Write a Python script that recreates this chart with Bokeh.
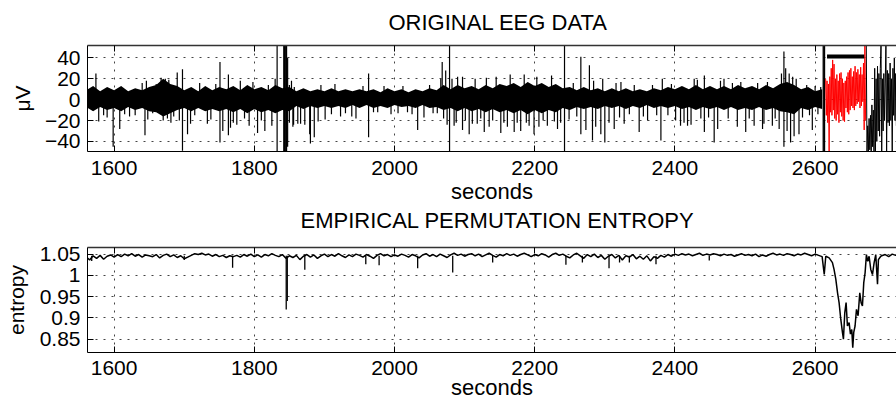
from bokeh.plotting import figure
from bokeh.layouts import column
from bokeh.models import Range1d, FixedTicker, LinearAxis, Title
from bokeh.embed import file_html
from bokeh.resources import INLINE

# ---------------- data ----------------
x_ticks = [1600, 1800, 2000, 2200, 2400, 2600]
eeg_ticks = [-40, -20, 0, 20, 40]
eeg_tick_labels = ["\u221240", "\u221220", "0", "20", "40"]
ent_ticks = [0.85, 0.9, 0.95, 1.0, 1.05]
ent_tick_labels = ["0.85", "0.9", "0.95", "1", "1.05"]

# EEG background activity envelope, sampled every 10 s from 1560 s (microvolts)
band_start, band_step = 1560, 10
band_hi = [9, 13, 8, 12, 9, 13, 8, 11, 9, 12,
           14, 20, 15, 13, 9, 12, 8, 13, 9, 12,
           10, 13, 9, 14, 10, 12, 9, 14, 11, 12,
           8, 11, 8, 10, 8, 11, 8, 10, 8, 10,
           8, 10, 7, 11, 8, 10, 7, 10, 8, 11,
           9, 14, 10, 14, 11, 13, 10, 14, 11, 15,
           13, 16, 12, 17, 13, 16, 12, 15, 11, 12,
           9, 12, 9, 11, 8, 11, 8, 11, 8, 10,
           8, 11, 9, 12, 10, 13, 10, 14, 10, 13,
           10, 13, 10, 14, 11, 13, 10, 14, 11, 15,
           17, 14, 10, 12, 8, 10]
band_lo = [-7, -11, -7, -10, -8, -11, -7, -10, -8, -11,
           -12, -16, -13, -10, -8, -11, -8, -11, -9, -11,
           -9, -12, -9, -13, -9, -12, -10, -13, -10, -11,
           -6, -9, -6, -8, -6, -8, -6, -8, -5, -8,
           -5, -8, -6, -8, -5, -7, -6, -8, -5, -8,
           -7, -10, -8, -11, -8, -11, -9, -12, -9, -12,
           -10, -13, -10, -14, -10, -13, -10, -12, -8, -10,
           -7, -9, -7, -9, -6, -8, -6, -9, -6, -8,
           -5, -8, -6, -8, -6, -9, -7, -10, -7, -9,
           -7, -10, -7, -10, -8, -10, -7, -10, -8, -11,
           -12, -14, -8, -10, -7, -9]

# EEG spikes (time in s, peak in microvolts)
spike_t = [1574, 1578, 1585, 1590, 1598.6, 1608, 1615, 1622, 1630, 1640, 1644, 1646, 1648,
           1655, 1660, 1667, 1670, 1673, 1676, 1678, 1681, 1685, 1690, 1693, 1697.5, 1697.5,
           1704.7, 1709, 1715, 1722, 1733, 1738, 1745, 1751, 1751, 1755, 1763, 1763, 1766,
           1770, 1775, 1780, 1786, 1792.6, 1798, 1804.6, 1810, 1815, 1820, 1825, 1829.7,
           1832.5, 1832.5, 1842, 1842, 1843, 1843, 1844, 1844, 1845, 1845, 1846, 1846,
           1847.5, 1847.5, 1850, 1850, 1853, 1855, 1856, 1857,
           1862, 1866, 1872, 1879, 1880, 1885.5, 1891, 1895, 1901, 1910, 1915, 1923, 1930,
           1939, 1945, 1955, 1963, 1963, 1970, 1976, 1985, 1995, 2005, 2012, 2018.5, 2025,
           2033, 2042, 2050, 2055, 2061, 2066, 2068, 2070, 2073, 2075,
           2078.5, 2078.5, 2082, 2085, 2088, 2090, 2097, 2097, 2101, 2106.5, 2111, 2115,
           2118, 2123, 2128, 2131, 2135, 2140, 2145, 2151.6, 2156, 2161, 2165, 2170.7,
           2175, 2180, 2185, 2188, 2192, 2199, 2203, 2206, 2212, 2218, 2224, 2228, 2232.5,
           2237, 2242.5, 2242.5,
           2249, 2255, 2260, 2265.8, 2265.8, 2273, 2278, 2282.4, 2284, 2287, 2294.3, 2297,
           2300, 2306, 2313.4, 2316, 2321, 2323, 2327.6, 2335, 2342, 2349, 2355, 2361,
           2368, 2374, 2380, 2382, 2390, 2395, 2401, 2408, 2413, 2418, 2423, 2427.5, 2432,
           2437, 2442, 2442, 2448, 2456, 2461, 2465, 2470, 2476, 2482, 2489, 2494, 2501,
           2506, 2513, 2518, 2525, 2527, 2532, 2539, 2543, 2548.7, 2552, 2555.5, 2555.5,
           2558, 2560, 2563, 2565, 2568, 2570, 2573, 2577, 2582, 2588, 2592, 2596, 2600,
           2604, 2608, 2611.5, 2611.5, 2612.5, 2612.5, 2613.5, 2613.5]
spike_v = [25, -21, -15, -17, -45, -28, -14, -16, -15, 16, -34, 18, -19,
           -13, 15, 21, -20, 20, -18, 19, -22, -16, 26, -20, 29, -49,
           -33, -23, -15, 16, -23, -19, 15, 36, -41, -30, 24, -34, -27,
           -22, -24, 18, -18, -25, 17, -32, -20, -30, 14, -25, 20,
           52, -50, 52, -50, 52, -50, 52, -50, 52, -50, 52, -50,
           40, -45, 14, -22, 18, -26, -24, 12,
           -23, -23, -24, -33, -42, -36, -21, 14, -19, -14, 15, -16, -13,
           -16, -18, 13, 25, -36, -12, -12, 13, -14, -13, 13, -12, -14,
           -29, -17, 14, -13, -13, 20, 36, -18, 28, -24,
           52, -50, 20, -25, -22, 22, 22, -29, -20, -33, -23, 20,
           -23, -18, -31, 21, -26, -20, 22, -32, -22, -26, 24, -31,
           -22, -30, 24, -22, -25, -33, 22, -26, -20, -25, 23, -21, -28,
           -22, 52, -50,
           -19, 16, -16, 41, -33, -29, 33, -39, 18, -26, -33, 20,
           -41, -22, -28, 16, -17, 17, -23, -14, 14, -31, -16, -20,
           14, -15, -39, 20, -15, 15, -20, -25, -22, -25, -24, 20, 19,
           -18, 23, -31, -17, -41, -28, 18, 20, -18, 16, -26, 17, -31,
           -18, -25, 16, -28, -23, 17, -25, -18, -28, 25, 46, -45,
           30, -30, 25, -41, 22, -35, 20, -33, -17, 14, -15, -29, 13,
           -14, 12, 52, -50, 52, -50, 52, -50]

# seizure segment (red) and post-onset activity (black)
red_t = [2615, 2616, 2617, 2618, 2619, 2620, 2621, 2622, 2623, 2624, 2625, 2626, 2627, 2628,
         2629, 2630, 2631, 2632, 2633, 2634, 2635, 2636, 2637, 2638, 2639, 2640, 2641, 2642,
         2643, 2644, 2645, 2646, 2647, 2648, 2649, 2650, 2651, 2652, 2653, 2654, 2655, 2656,
         2657, 2658, 2659, 2660, 2661, 2662, 2663, 2664, 2665, 2666, 2667, 2668, 2669, 2670,
         2671, 2672]
red_v = [20, -15, 18, -22, 15, -50, 22, -12, 30, -15, 38, -10, 34, -18,
         20, -20, 24, -14, 18, -22, 25, -12, 26, -16, 20, -20, 16, -21,
         18, -8, 22, -12, 26, -14, 28, -10, 30, -6, 22, -8, 27, -10,
         32, -6, 26, -4, 29, -2, 24, -8, 31, -6, 24, -2, 35, -29,
         52, -20]
post_t = [2673, 2674, 2675, 2676, 2677, 2678, 2679, 2680, 2681, 2682, 2683, 2684, 2685, 2686,
          2687, 2688, 2689, 2690, 2691, 2692, 2693, 2694, 2695, 2696, 2697, 2698, 2699, 2700,
          2701, 2702, 2703, 2704, 2705, 2706, 2707, 2708, 2709, 2710, 2711, 2712, 2713, 2714,
          2715, 2716, 2717]
post_v = [52, -50, -25, -50, -18, -48, -15, -50, -5, -45, -10, -50, 30, -50,
          20, -40, 32, -30, 25, -35, 30, 52, -50, 20, -30, 25, -20, 15,
          52, -50, 28, -22, 25, -25, 35, -20, 20, -50, 30, -15, 40, -20,
          25, -25, 30]

# seizure-onset marker bar
bar_start, bar_end, bar_level = 2617, 2670, 41.3

# permutation entropy, every 5 s from 1560 s to 2610 s
ent_start, ent_step = 1560, 5
ent_base = [1.044, 1.036, 1.046, 1.040, 1.047, 1.038, 1.045, 1.048, 1.043,
            1.049, 1.044, 1.050, 1.046, 1.051, 1.045, 1.049, 1.043, 1.048, 1.046,
            1.044, 1.049, 1.041, 1.047, 1.050, 1.044, 1.048, 1.042, 1.046, 1.039,
            1.043, 1.047, 1.051, 1.049, 1.052, 1.048, 1.050, 1.045, 1.049, 1.044,
            1.047, 1.042, 1.046, 1.044, 1.047, 1.043, 1.049, 1.045, 1.050, 1.044,
            1.048, 1.043, 1.049, 1.046, 1.051, 1.047, 1.044, 1.049, 1.040, 1.046,
            1.042, 1.047, 1.037, 1.045, 1.049, 1.043, 1.048, 1.040, 1.046, 1.050,
            1.044, 1.049, 1.045, 1.051, 1.046, 1.042, 1.048, 1.044, 1.050, 1.047,
            1.043, 1.049, 1.045, 1.040, 1.047, 1.051, 1.046, 1.049, 1.044, 1.048,
            1.045, 1.050, 1.047, 1.043, 1.049, 1.046, 1.041, 1.048, 1.051, 1.045,
            1.049, 1.044, 1.050, 1.046, 1.042, 1.048, 1.052, 1.047, 1.050, 1.045,
            1.049, 1.051, 1.046, 1.050, 1.044, 1.048, 1.052, 1.047, 1.043, 1.049,
            1.046, 1.051, 1.047, 1.050, 1.045, 1.049, 1.052, 1.048, 1.044, 1.049,
            1.046, 1.051, 1.048, 1.043, 1.049, 1.052, 1.047, 1.050, 1.045, 1.041,
            1.048, 1.052, 1.046, 1.040, 1.049, 1.044, 1.050, 1.042, 1.047, 1.038,
            1.045, 1.049, 1.041, 1.047, 1.036, 1.046, 1.043, 1.049, 1.039, 1.045,
            1.038, 1.046, 1.034, 1.044, 1.040, 1.047, 1.043, 1.049, 1.045, 1.050,
            1.047, 1.051, 1.048, 1.050, 1.046, 1.049, 1.052, 1.047, 1.050, 1.048,
            1.051, 1.049, 1.046, 1.050, 1.047, 1.049, 1.045, 1.048, 1.051, 1.047,
            1.049, 1.046, 1.050, 1.044, 1.048, 1.045, 1.049, 1.052, 1.048, 1.050,
            1.047, 1.051, 1.049, 1.046, 1.050, 1.048, 1.052, 1.049, 1.046, 1.050,
            1.047, 1.044]
# entropy drop during the seizure
ent_drop_t = [2613, 2615.2, 2620, 2624.7, 2627, 2629.5, 2632, 2634.2, 2636.6, 2639, 2640.4,
              2642.3, 2644.2, 2646.1, 2648.5, 2650.4, 2652.3, 2653.7, 2655.1, 2657, 2659,
              2661.3, 2663.7, 2665.6, 2667.5, 2669.4, 2671.3, 2673.2, 2675.1, 2677, 2679.4,
              2681.8, 2684.2, 2686.5, 2689, 2690.3, 2693.7]
ent_drop_v = [1.002, 1.045, 1.041, 1.030, 1.014, 0.991, 0.959, 0.936, 0.897, 0.866, 0.850,
              0.912, 0.936, 0.881, 0.889, 0.862, 0.873, 0.830, 0.866, 0.881, 0.920,
              0.905, 0.959, 0.936, 0.928, 0.983, 1.006, 1.049, 1.033, 1.045, 1.014,
              1.002, 1.030, 1.049, 0.979, 1.037, 1.045]
ent_tail_t = [2695, 2700, 2705, 2710, 2715, 2720]
ent_tail_v = [1.046, 1.049, 1.044, 1.050, 1.047, 1.049]
# short, narrow entropy dips
dip_t = [1568, 1700, 1769, 1845.5, 1847, 1872, 1959, 1978, 2033, 2083, 2140, 2244.5,
         2268, 2306, 2321, 2335, 2373, 2449]
dip_v = [1.034, 1.036, 1.018, 0.920, 0.940, 1.013, 1.026, 1.024, 1.017, 1.007, 1.030, 1.025,
         1.030, 1.017, 1.030, 1.030, 1.026, 1.035]
dip_top = 1.046

# ---------------- layout ----------------
FONT = "Liberation Sans"
X_RANGE = (1562, 2716.1)
W, LEFT = 896, 87


def make_title(text, offset, standoff):
    return Title(text=text, align="left", offset=offset, standoff=standoff,
                 vertical_align="top", text_font=FONT, text_font_size="22px",
                 text_font_style="normal", text_color="black")


def style(p, ticks, labels, ylabel, ylabel_standoff, xlabel_standoff, xtick_standoff):
    p.outline_line_color = None
    xa = p.xaxis[0]
    xa.ticker = FixedTicker(ticks=x_ticks)
    xa.axis_label = "seconds"
    ya = p.yaxis[0]
    ya.ticker = FixedTicker(ticks=ticks)
    ya.major_label_overrides = dict(zip(ticks, labels))
    ya.axis_label = ylabel
    for ax in (xa, ya):
        ax.axis_line_color = "black"
        ax.axis_line_width = 1
        ax.major_tick_in = 6
        ax.major_tick_out = 0
        ax.major_tick_line_color = "black"
        ax.minor_tick_line_color = None
        ax.major_label_text_font = FONT
        ax.major_label_text_font_size = "21px"
        ax.major_label_text_color = "black"
        ax.axis_label_text_font = FONT
        ax.axis_label_text_font_style = "normal"
        ax.axis_label_text_color = "black"
    xa.axis_label_text_font_size = "22px"
    ya.axis_label_text_font_size = "21px"
    xa.major_label_standoff = xtick_standoff
    xa.axis_label_standoff = xlabel_standoff
    ya.major_label_standoff = 7
    ya.axis_label_standoff = ylabel_standoff

    # top border of the box with inward ticks (no labels)
    top_ax = LinearAxis(ticker=FixedTicker(ticks=x_ticks), major_label_text_color=None,
                        major_label_text_font_size="1px", major_label_standoff=0,
                        major_tick_in=6, major_tick_out=0, minor_tick_line_color=None,
                        axis_line_color="#333333", axis_line_width=1.5,
                        major_tick_line_color="black")
    p.add_layout(top_ax, "above")

    for g, t in ((p.xgrid[0], x_ticks), (p.ygrid[0], ticks)):
        g.ticker = FixedTicker(ticks=t)
        g.grid_line_color = "#444444"
        g.grid_line_dash = "2 6"
        g.grid_line_width = 1


# ---- top panel: original EEG (also carries the lower panel's heading below it) ----
top = figure(width=W, height=238, x_range=Range1d(*X_RANGE), y_range=Range1d(-49.6, 51.8),
             output_backend="svg", toolbar_location=None,
             min_border_left=LEFT, min_border_right=0, min_border_top=45, min_border_bottom=87)
style(top, eeg_ticks, eeg_tick_labels, "\u03bcV", 8, 1, 9)
top.add_layout(make_title("ORIGINAL EEG DATA", 301, 17), "above")
top.add_layout(make_title("EMPIRICAL PERMUTATION ENTROPY", 213, 2), "below")

band_t = [band_start + band_step * i for i in range(len(band_hi))]
top.varea(x=band_t, y1=band_lo, y2=band_hi, color="black")
top.segment(x0=spike_t, y0=[0] * len(spike_t), x1=spike_t, y1=spike_v,
            line_color="black", line_width=1.2)
top.line(post_t, post_v, line_color="black", line_width=1)
top.line(red_t, red_v, line_color="#ff0000", line_width=1)
top.segment(x0=[bar_start], y0=[bar_level], x1=[bar_end], y1=[bar_level],
            line_color="black", line_width=4)

# ---- bottom panel: permutation entropy ----
bot = figure(width=W, height=167, x_range=Range1d(*X_RANGE), y_range=Range1d(0.8188, 1.0655),
             output_backend="svg", toolbar_location=None,
             min_border_left=LEFT, min_border_right=0, min_border_top=9, min_border_bottom=53)
style(bot, ent_ticks, ent_tick_labels, "entropy", 9, -3, 8)

ent_t = [ent_start + ent_step * i for i in range(len(ent_base))] + ent_drop_t + ent_tail_t
ent_v = ent_base + ent_drop_v + ent_tail_v
bot.line(ent_t, ent_v, line_color="black", line_width=1.5)
bot.segment(x0=dip_t, y0=[dip_top] * len(dip_t), x1=dip_t, y1=dip_v,
            line_color="black", line_width=1.3)

layout = column(top, bot)
open("out.html", "w").write(file_html(layout, INLINE))
